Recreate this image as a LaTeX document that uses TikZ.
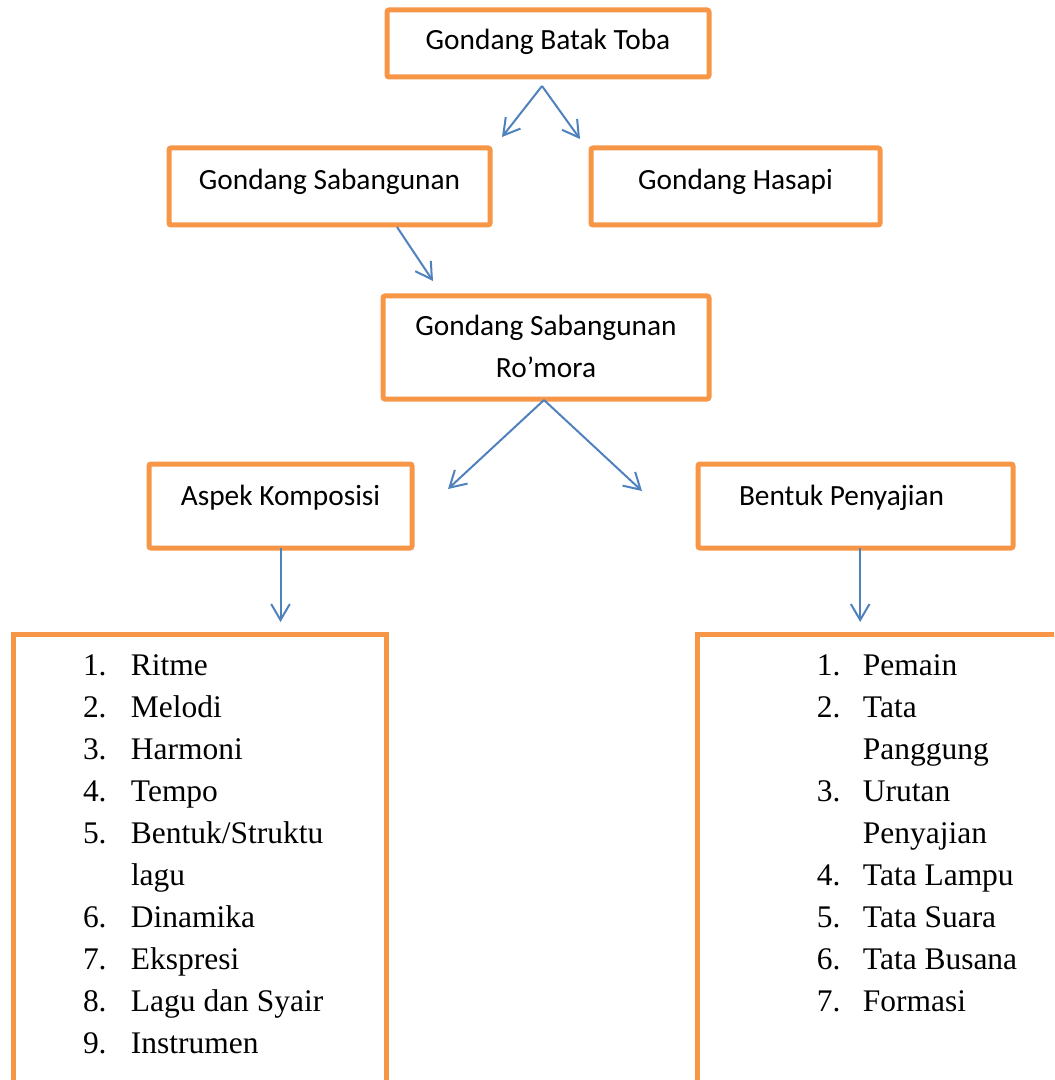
\documentclass[tikz,border=0pt]{standalone}
\usepackage{fontspec}
\setmainfont{Liberation Serif}
\newfontfamily\calibri{Carlito}
\usetikzlibrary{arrows.meta}
\definecolor{boxorange}{HTML}{F79646}
\definecolor{arrowblue}{HTML}{4F81BD}

\begin{document}
\begin{tikzpicture}[x=0.75pt, y=-0.75pt,
    box/.style = {draw=boxorange, line width=3.75pt, rounded corners=1.5pt, inner sep=0pt, outer sep=0pt, align=center, anchor=north, font=\calibri\fontsize{22}{31.5}\selectfont},
    list/.style = {draw=boxorange, line width=3.75pt, inner sep=0pt, outer sep=0pt, anchor=north west, text height=30.75pt, text depth=400pt, font=\fontsize{23.6}{31.5}\selectfont},
    arr/.style = {draw=arrowblue, line width=1.5pt, -{Straight Barb[length=12pt,width=14pt]}}]
    \useasboundingbox (0,0) rectangle (1054,1080);
    \clip (0,0) rectangle (1054,1080);

    \node[box, minimum width=241.5pt, text height=30pt, text depth=20.25pt] (toba) at (548,10) {Gondang Batak Toba};
    \node[box, minimum width=240.75pt, text height=31.5pt, text depth=26.25pt] (sabangunan) at (329.5,148) {Gondang Sabangunan};
    \node[box, minimum width=216.75pt, text height=31.5pt, text depth=26.25pt] (hasapi) at (735.5,148) {Gondang Hasapi};
    \node[box, minimum width=244.5pt, text height=60.75pt, text depth=16.5pt] (romora) at (546,296) {Gondang Sabangunan\\Ro’mora};
    \node[box, minimum width=197.25pt, text height=30.75pt, text depth=32.25pt] (aspek) at (280.5,464) {Aspek Komposisi};
    \node[box, minimum width=236.25pt, text height=30.75pt, text depth=32.25pt] (bentuk) at (855.5,464) {Bentuk Penyajian\hspace*{21pt}};

    \node[list, minimum width=279.75pt] (komposisi) at (13,634) {%
        \begin{tabular}[t]{@{\hspace{52.5pt}}p{36pt}@{}p{191.25pt}@{}}
            1. & Ritme\\
            2. & Melodi\\
            3. & Harmoni\\
            4. & Tempo\\
            5. & Bentuk/Struktu\\
               & lagu\\
            6. & Dinamika\\
            7. & Ekspresi\\
            8. & Lagu dan Syair\\
            9. & Instrumen
        \end{tabular}};
    \node[list, minimum width=300pt] (penyajian) at (697.5,634) {%
        \begin{tabular}[t]{@{\hspace{89.6pt}}p{34.5pt}@{}p{175.9pt}@{}}
            1. & Pemain\\
            2. & Tata\\
               & Panggung\\
            3. & Urutan\\
               & Penyajian\\
            4. & Tata Lampu\\
            5. & Tata Suara\\
            6. & Tata Busana\\
            7. & Formasi
        \end{tabular}};

    \draw[arr] ([shift={(-6,9)}]toba.south) -- ([shift={(12,-11)}]sabangunan.north east);
    \draw[arr] ([shift={(-6,9)}]toba.south) -- ([shift={(-11,-9)}]hasapi.north west);
    \draw[arr] ([shift={(67.5,2)}]sabangunan.south) -- ([shift={(50,-15)}]romora.north west);
    \draw[arr] ([shift={(-2,1)}]romora.south) -- ([shift={(36,25)}]aspek.north east);
    \draw[arr] ([shift={(-2,1)}]romora.south) -- ([shift={(-56,27)}]bentuk.north west);
    \draw[arr, shorten >=9pt] (aspek.south) -- (aspek.south |- komposisi.north);
    \draw[arr, shorten >=9pt] ([xshift=3.5]bentuk.south) -- ([xshift=3.5]bentuk.south |- penyajian.north);
\end{tikzpicture}
\end{document}
